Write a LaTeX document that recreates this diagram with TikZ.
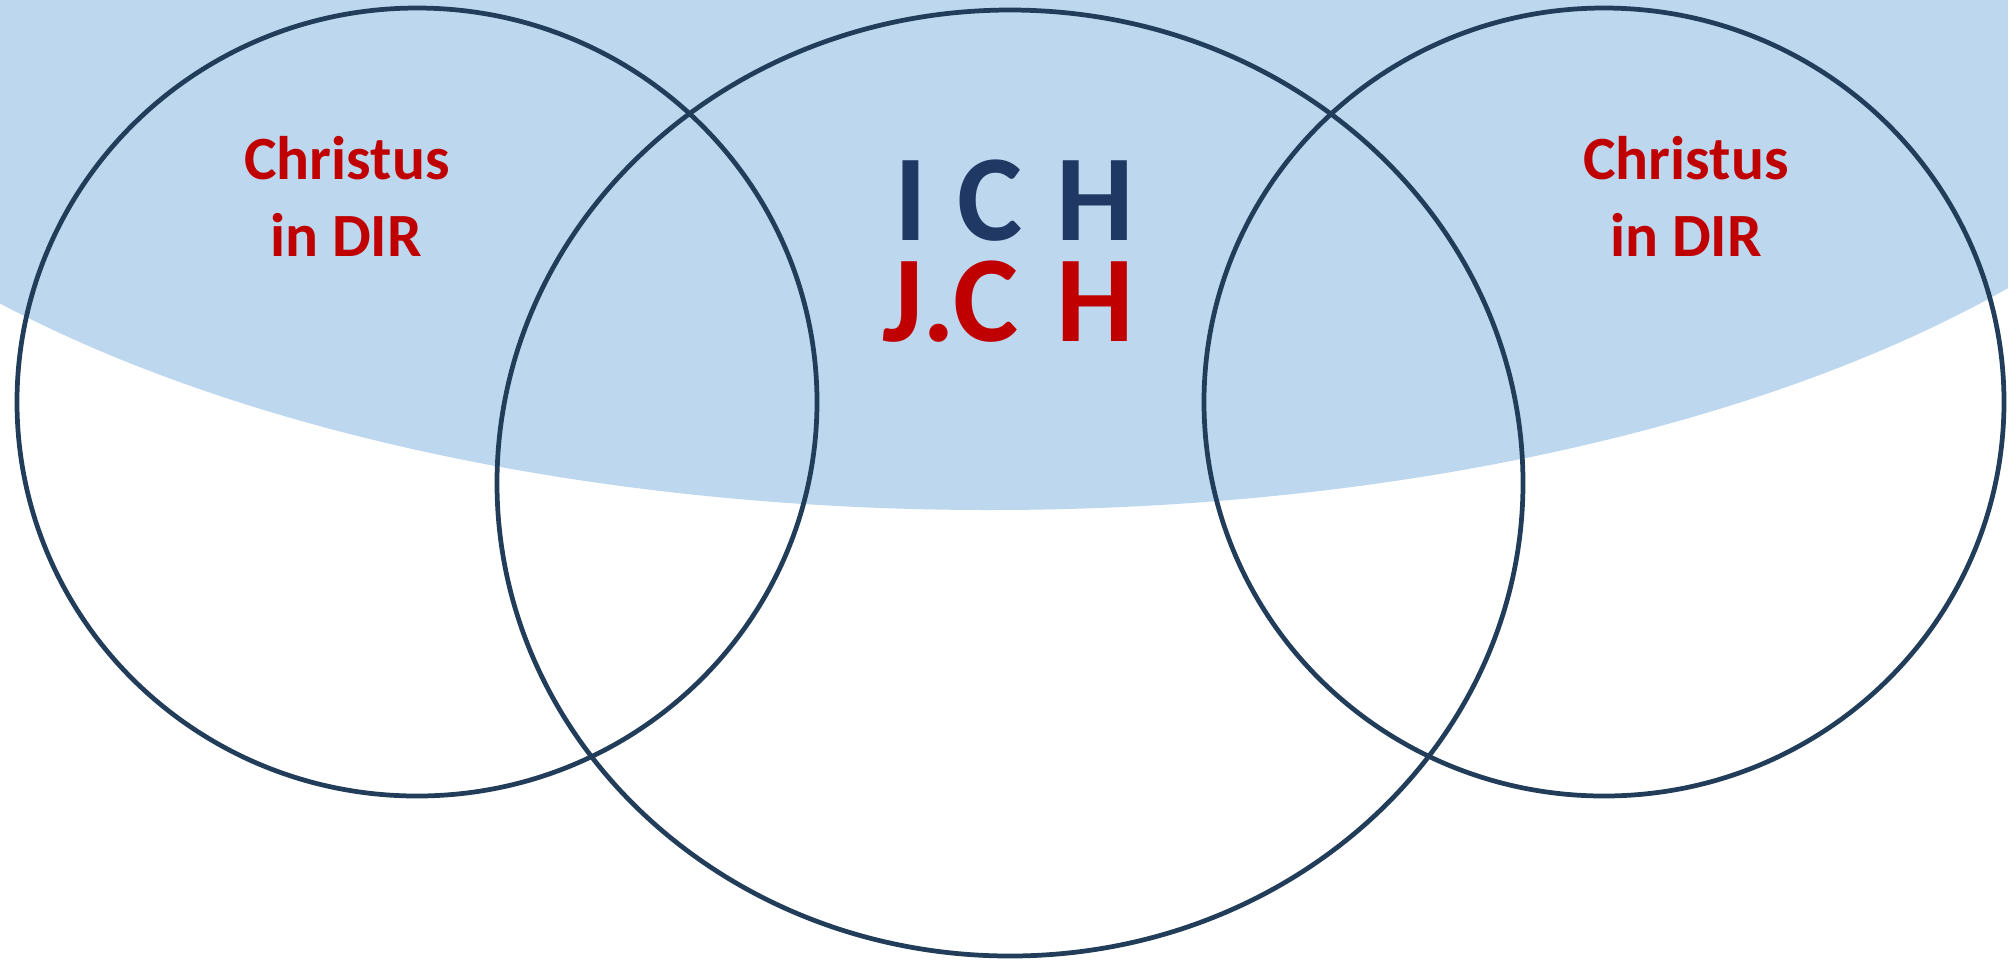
\documentclass[tikz,border=0pt]{standalone}
\usepackage{fontspec}
\setmainfont{Carlito}
\usepackage{tikz}
\usetikzlibrary{positioning}

\definecolor{skyfill}{HTML}{BDD7EE}
\definecolor{ringline}{HTML}{213D59}
\definecolor{wordred}{HTML}{C00000}
\definecolor{worddark}{HTML}{203864}

\begin{document}
\begin{tikzpicture}[
		ring/.style={draw=ringline, line width=1.35pt},
		christ/.style={text=wordred, font=\fontsize{17.5}{21}\selectfont\bfseries, inner sep=0pt, anchor=base},
		ich/.style={font=\fontsize{35}{40}\selectfont\bfseries, inner sep=0pt, anchor=base west}
	]
			\useasboundingbox (0,0) rectangle (20.08,-9.6);
			\clip (0,0) rectangle (20.08,-9.6);
			
			% Light blue sky behind the upper part
			\fill[skyfill] (9.90,0.77) ellipse (13.0 and 5.87);
			
			% The three rings
			\draw[ring] (4.17,-4.02) ellipse (4.00 and 3.94);
			\draw[ring] (10.10,-4.83) ellipse (5.13 and 4.73);
			\draw[ring] (16.04,-4.02) ellipse (4.00 and 3.94);
			
			% Left ring text
			\node[christ] (christL) at (3.47,-1.79) {Christus};
			\node[christ] (dirL) at (3.46,-2.56) {in DIR};
			
			% Right ring text
			\node[christ] (christR) at (16.86,-1.79) {Christus};
			\node[christ] (dirR) at (16.86,-2.56) {in DIR};
			
			% Middle text
			\node[ich, text=worddark] (ich) at (8.94,-2.40) {I\hspace{0.24em}C\hspace{0.28em}H};
			\node[ich, text=wordred] (jch) at (8.82,-3.41) {J.C\hspace{0.31em}H};
		\end{tikzpicture}
\end{document}
